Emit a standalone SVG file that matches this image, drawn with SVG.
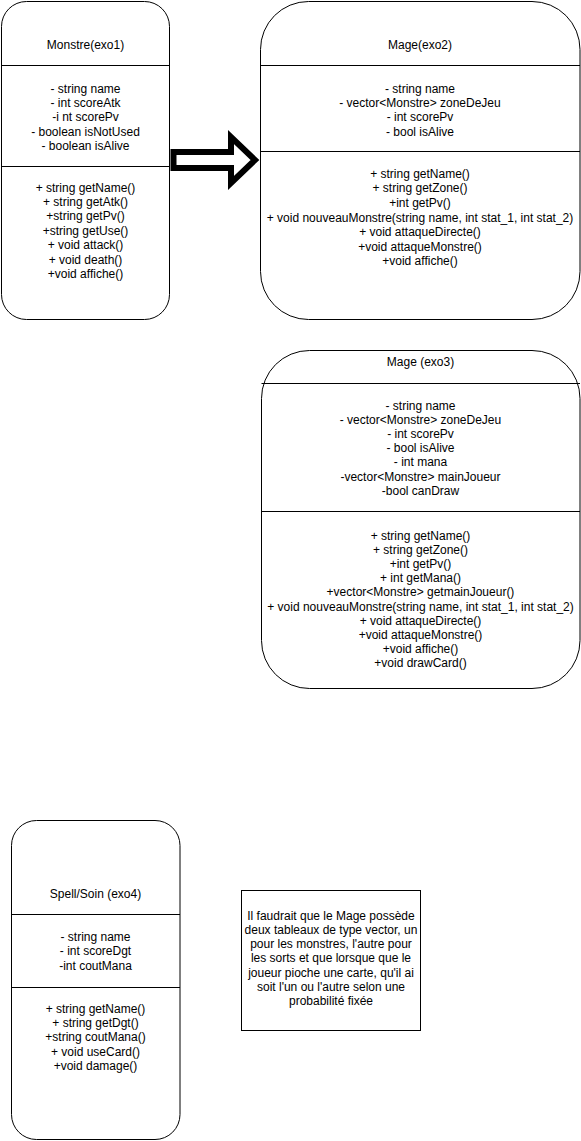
<svg xmlns="http://www.w3.org/2000/svg" width="581" height="1141" viewBox="0 0 581 1141">
<style>
.box{fill:#fff;stroke:#000;stroke-width:1}
.div{stroke:#000;stroke-width:1;fill:none}
text{font-family:"Liberation Sans",Arial,sans-serif;font-size:12px;fill:#000;text-anchor:middle}
</style>
<rect width="581" height="1141" fill="#fff"/>
<g id="connectors">
<path d="M173.5 152 L231 152 L231 137 L255 160 L231 183 L231 168 L173.5 168 Z" fill="#fff" stroke="#000" stroke-width="6" stroke-linejoin="miter"/>
</g>
<g id="monstre">
<rect class="box" x="1.5" y="1.5" width="168" height="318" rx="25" ry="25"/>
<line class="div" x1="1.5" y1="65.5" x2="169.5" y2="65.5"/>
<line class="div" x1="1.5" y1="166.5" x2="169.5" y2="166.5"/>
<text x="85.5" y="49">Monstre(exo1)</text>
<text x="85.5" y="93">- string name</text>
<text x="85.5" y="107">- int scoreAtk</text>
<text x="85.5" y="121">-i nt scorePv</text>
<text x="85.5" y="136">- boolean isNotUsed</text>
<text x="85.5" y="150">- boolean isAlive</text>
<text x="85.5" y="192">+ string getName()</text>
<text x="85.5" y="206">+ string getAtk()</text>
<text x="85.5" y="220">+string getPv()</text>
<text x="85.5" y="235">+string getUse()</text>
<text x="85.5" y="249">+ void attack()</text>
<text x="85.5" y="264">+ void death()</text>
<text x="85.5" y="278">+void affiche()</text>
</g>
<g id="mage2">
<rect class="box" x="260.5" y="1.5" width="319.5" height="318" rx="48" ry="48"/>
<line class="div" x1="260.5" y1="65.5" x2="580" y2="65.5"/>
<line class="div" x1="260.5" y1="151.5" x2="580" y2="151.5"/>
<text x="420" y="49">Mage(exo2)</text>
<text x="420" y="93">- string name</text>
<text x="420" y="107">- vector&lt;Monstre&gt; zoneDeJeu</text>
<text x="420" y="121">- int scorePv</text>
<text x="420" y="136">- bool isAlive</text>
<text x="420" y="178">+ string getName()</text>
<text x="420" y="192">+ string getZone()</text>
<text x="420" y="207">+int getPv()</text>
<text x="420" y="222">+ void nouveauMonstre(string name, int stat_1, int stat_2)</text>
<text x="420" y="236">+ void attaqueDirecte()</text>
<text x="420" y="251">+void attaqueMonstre()</text>
<text x="420" y="265">+void affiche()</text>
</g>
<g id="mage3">
<rect class="box" x="261.5" y="350.5" width="318.5" height="338" rx="48" ry="48"/>
<line class="div" x1="261.5" y1="383.5" x2="580" y2="383.5"/>
<line class="div" x1="261.5" y1="511.5" x2="580" y2="511.5"/>
<text x="420.5" y="366">Mage (exo3)</text>
<text x="420.5" y="410">- string name</text>
<text x="420.5" y="424">- vector&lt;Monstre&gt; zoneDeJeu</text>
<text x="420.5" y="438">- int scorePv</text>
<text x="420.5" y="452">- bool isAlive</text>
<text x="420.5" y="466">- int mana</text>
<text x="420.5" y="481">-vector&lt;Monstre&gt; mainJoueur</text>
<text x="420.5" y="495">-bool canDraw</text>
<text x="420.5" y="540">+ string getName()</text>
<text x="420.5" y="554">+ string getZone()</text>
<text x="420.5" y="568">+int getPv()</text>
<text x="420.5" y="582">+ int getMana()</text>
<text x="420.5" y="596">+vector&lt;Monstre&gt; getmainJoueur()</text>
<text x="420.5" y="611">+ void nouveauMonstre(string name, int stat_1, int stat_2)</text>
<text x="420.5" y="625">+ void attaqueDirecte()</text>
<text x="420.5" y="639">+void attaqueMonstre()</text>
<text x="420.5" y="653">+void affiche()</text>
<text x="420.5" y="667">+void drawCard()</text>
</g>
<g id="spell">
<rect class="box" x="11.5" y="820.5" width="168.5" height="319" rx="25" ry="25"/>
<line class="div" x1="11.5" y1="914.5" x2="180" y2="914.5"/>
<line class="div" x1="11.5" y1="987.5" x2="180" y2="987.5"/>
<text x="95.5" y="898">Spell/Soin (exo4)</text>
<text x="95.5" y="941">- string name</text>
<text x="95.5" y="955">- int scoreDgt</text>
<text x="95.5" y="970">-int coutMana</text>
<text x="95.5" y="1013">+ string getName()</text>
<text x="95.5" y="1027">+ string getDgt()</text>
<text x="95.5" y="1041">+string coutMana()</text>
<text x="95.5" y="1056">+ void useCard()</text>
<text x="95.5" y="1070">+void damage()</text>
</g>
<g id="note">
<rect class="box" x="241.5" y="890.5" width="179" height="140"/>
<text x="331" y="920">Il faudrait que le Mage possède</text>
<text x="331" y="934">deux tableaux de type vector, un</text>
<text x="331" y="948">pour les monstres, l'autre pour</text>
<text x="331" y="962">les sorts et que lorsque que le</text>
<text x="331" y="977">joueur pioche une carte, qu'il ai</text>
<text x="331" y="991">soit l'un ou l'autre selon une</text>
<text x="331" y="1005">probabilité fixée</text>
</g>
</svg>
